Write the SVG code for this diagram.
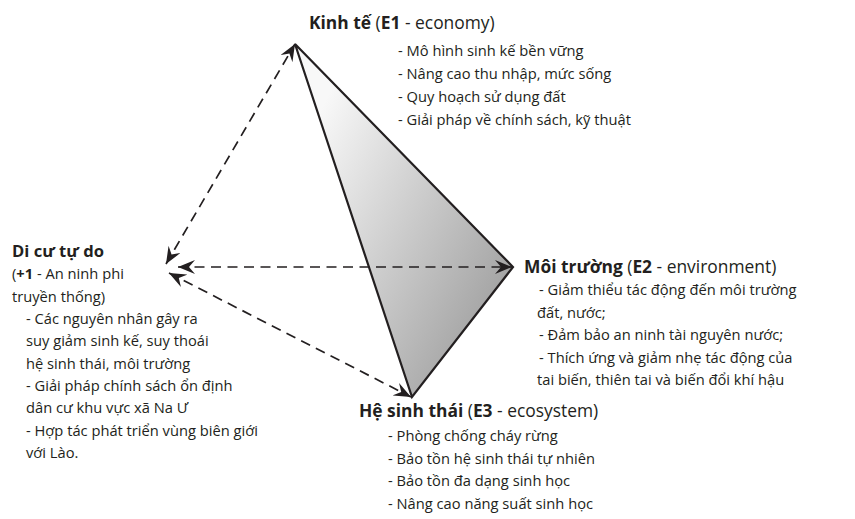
<svg xmlns="http://www.w3.org/2000/svg" width="855" height="519" viewBox="0 0 855 519">
<style>
text{font-family:"Open Sans","Noto Sans","Liberation Sans",sans-serif;font-size:14.7px;fill:#231f20}
text.h{font-size:17.4px}
.b{font-weight:bold}
.dash{fill:none;stroke:#231f20;stroke-width:1.7;stroke-dasharray:10 6.5;marker-start:url(#ah);marker-end:url(#ah)}
</style>
<defs>
<linearGradient id="g" gradientUnits="userSpaceOnUse" x1="300" y1="150" x2="513" y2="260">
<stop offset="0" stop-color="#f8f8f8"/>
<stop offset="1" stop-color="#a6a6a6"/>
</linearGradient>
<marker id="ah" viewBox="0 0 17 14" refX="17" refY="7" markerWidth="17" markerHeight="14" markerUnits="userSpaceOnUse" orient="auto-start-reverse">
<path d="M0,0 L17,7 L0,14 L6,7 Z" fill="#231f20"/>
</marker>
</defs>
<g id="triangle">
<polygon points="295,44 513,267 412,397" fill="url(#g)" stroke="#231f20" stroke-width="2.2" stroke-linejoin="miter"/>
</g>
<g id="connectors">
<line class="dash" x1="166" y1="264" x2="295" y2="44"/>
<line class="dash" x1="178" y1="267" x2="512" y2="267"/>
<line class="dash" x1="169" y1="273" x2="411" y2="397"/>
</g>
<g id="e1">
<text class="h" x="309" y="29"><tspan class="b">Kinh tế</tspan> (<tspan class="b">E1</tspan> - economy)</text>
<text x="398" y="56">- Mô hình sinh kế bền vững</text>
<text x="398" y="79">- Nâng cao thu nhập, mức sống</text>
<text x="398" y="102">- Quy hoạch sử dụng đất</text>
<text x="398" y="125">- Giải pháp về chính sách, kỹ thuật</text>
</g>
<g id="migration">
<text class="h b" x="12" y="257" style="font-size:16.6px">Di cư tự do</text>
<text x="12" y="279">(<tspan class="b">+1</tspan> - An ninh phi</text>
<text x="12" y="302">truyền thống)</text>
<text x="26" y="324">- Các nguyên nhân gây ra</text>
<text x="26" y="346">suy giảm sinh kế, suy thoái</text>
<text x="26" y="369">hệ sinh thái, môi trường</text>
<text x="26" y="391">- Giải pháp chính sách ổn định</text>
<text x="26" y="413">dân cư khu vực xã Na Ư</text>
<text x="26" y="436">- Hợp tác phát triển vùng biên giới</text>
<text x="26" y="458">với Lào.</text>
</g>
<g id="e2">
<text class="h" x="524" y="273"><tspan class="b">Môi trường</tspan> (<tspan class="b">E2</tspan> - environment)</text>
<text x="539" y="295">- Giảm thiểu tác động đến môi trường</text>
<text x="537" y="318">đất, nước;</text>
<text x="539" y="340">- Đảm bảo an ninh tài nguyên nước;</text>
<text x="539" y="363">- Thích ứng và giảm nhẹ tác động của</text>
<text x="537" y="385">tai biến, thiên tai và biến đổi khí hậu</text>
</g>
<g id="e3">
<text class="h" x="359" y="417"><tspan class="b">Hệ sinh thái</tspan> (<tspan class="b">E3</tspan> - ecosystem)</text>
<text x="388" y="441">- Phòng chống cháy rừng</text>
<text x="388" y="464">- Bảo tồn hệ sinh thái tự nhiên</text>
<text x="388" y="486">- Bảo tồn đa dạng sinh học</text>
<text x="388" y="509">- Nâng cao năng suất sinh học</text>
</g>
</svg>
